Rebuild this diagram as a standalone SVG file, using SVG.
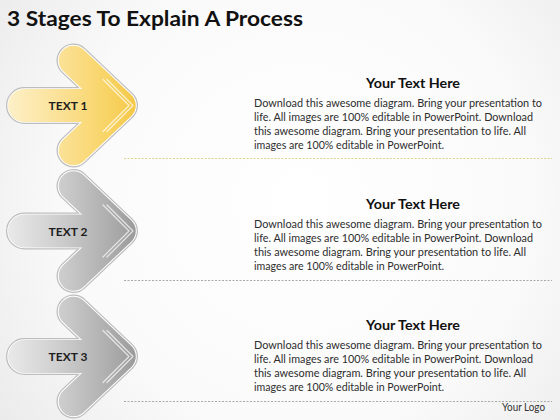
<svg xmlns="http://www.w3.org/2000/svg" xmlns:xlink="http://www.w3.org/1999/xlink" width="560" height="420" viewBox="0 0 560 420">
  <defs>
    <radialGradient id="bg" cx="300" cy="200" r="420" gradientUnits="userSpaceOnUse">
      <stop offset="0" stop-color="#ffffff"/>
      <stop offset="0.55" stop-color="#fafafa"/>
      <stop offset="1" stop-color="#e6e6e6"/>
    </radialGradient>
    <linearGradient id="gy" x1="8" y1="0" x2="140" y2="0" gradientUnits="userSpaceOnUse">
      <stop offset="0" stop-color="#fdf0c8"/>
      <stop offset="0.4" stop-color="#fbe196"/>
      <stop offset="0.75" stop-color="#f8d466"/>
      <stop offset="1" stop-color="#f4c644"/>
    </linearGradient>
    <linearGradient id="gg" x1="8" y1="0" x2="140" y2="0" gradientUnits="userSpaceOnUse">
      <stop offset="0" stop-color="#e9e9e9"/>
      <stop offset="0.4" stop-color="#cdcdcd"/>
      <stop offset="0.75" stop-color="#afafaf"/>
      <stop offset="1" stop-color="#989898"/>
    </linearGradient>
    <path id="chev" d="M73.5,-45 L121,0 L73.5,45"/>
    <rect id="bar" x="8" y="-16.5" width="102" height="33" rx="16.5"/>
    <path id="hl1" d="M103,-26 L129,0 L103,26"/>
    <path id="hl2" d="M107,-26 L133,0 L107,26"/>
    <style>
      .co { fill: none; stroke: #bdbdbd; stroke-width: 34; stroke-linecap: round; stroke-linejoin: round; }
      .cw { fill: none; stroke: #ffffff; stroke-width: 31.5; stroke-linecap: round; stroke-linejoin: round; }
      .bo { fill: #bdbdbd; stroke: #bdbdbd; stroke-width: 4; }
      .bw { fill: #ffffff; stroke: #ffffff; stroke-width: 1.5; }
      .cy { fill: none; stroke: url(#gy); stroke-width: 29.5; stroke-linecap: round; stroke-linejoin: round; }
      .cg { fill: none; stroke: url(#gg); stroke-width: 29.5; stroke-linecap: round; stroke-linejoin: round; }
      .by { fill: url(#gy); }
      .bg2 { fill: url(#gg); }
      .hl { fill: none; stroke: #ffffff; stroke-opacity: 0.7; stroke-width: 1.2; stroke-linejoin: round; stroke-linecap: round; }
      .lbl { font-family: Lato, "Open Sans", sans-serif; font-weight: bold; font-size: 12px; fill: #1e1e1e; text-anchor: middle; }
      .title { font-family: Lato, "Open Sans", sans-serif; font-weight: bold; font-size: 21px; fill: #111111; }
      .head { font-family: Lato, "Open Sans", sans-serif; font-weight: bold; font-size: 13px; fill: #111111; }
      .body { font-family: Lato, "Open Sans", sans-serif; font-size: 11.2px; fill: #2e2e2e; }
      .logo { font-family: Lato, "Open Sans", sans-serif; font-size: 10.5px; fill: #333333; }
      .dy { stroke: #e2d18c; stroke-width: 1; stroke-dasharray: 2 1.5; fill: none; }
      .dg { stroke: #a9a9a9; stroke-width: 1; stroke-dasharray: 2 1.5; fill: none; }
    </style>
  </defs>

  <rect x="0" y="0" width="560" height="420" fill="url(#bg)"/>

  <text class="title" x="7" y="26" textLength="296" lengthAdjust="spacingAndGlyphs">3 Stages To Explain A Process</text>

  <g id="stage1" transform="translate(0,105.5)">
    <use xlink:href="#chev" href="#chev" class="co"/>
    <use xlink:href="#bar" href="#bar" class="bo"/>
    <use xlink:href="#chev" href="#chev" class="cw"/>
    <use xlink:href="#bar" href="#bar" class="bw"/>
    <use xlink:href="#chev" href="#chev" class="cy"/>
    <use xlink:href="#bar" href="#bar" class="by"/>
    <use xlink:href="#hl1" href="#hl1" class="hl"/>
    <use xlink:href="#hl2" href="#hl2" class="hl"/>
    <text class="lbl" x="68" y="4.5">TEXT 1</text>
  </g>

  <g id="stage2" transform="translate(0,231)">
    <use xlink:href="#chev" href="#chev" class="co"/>
    <use xlink:href="#bar" href="#bar" class="bo"/>
    <use xlink:href="#chev" href="#chev" class="cw"/>
    <use xlink:href="#bar" href="#bar" class="bw"/>
    <use xlink:href="#chev" href="#chev" class="cg"/>
    <use xlink:href="#bar" href="#bar" class="bg2"/>
    <use xlink:href="#hl1" href="#hl1" class="hl"/>
    <use xlink:href="#hl2" href="#hl2" class="hl"/>
    <text class="lbl" x="68" y="4.5">TEXT 2</text>
  </g>

  <g id="stage3" transform="translate(0,356.5)">
    <use xlink:href="#chev" href="#chev" class="co"/>
    <use xlink:href="#bar" href="#bar" class="bo"/>
    <use xlink:href="#chev" href="#chev" class="cw"/>
    <use xlink:href="#bar" href="#bar" class="bw"/>
    <use xlink:href="#chev" href="#chev" class="cg"/>
    <use xlink:href="#bar" href="#bar" class="bg2"/>
    <use xlink:href="#hl1" href="#hl1" class="hl"/>
    <use xlink:href="#hl2" href="#hl2" class="hl"/>
    <text class="lbl" x="68" y="4.5">TEXT 3</text>
  </g>

  <g id="connectors">
    <line class="dy" x1="124" y1="158.5" x2="552" y2="158.5"/>
    <line class="dg" x1="124" y1="280.5" x2="552" y2="280.5"/>
    <line class="dg" x1="124" y1="401.5" x2="552" y2="401.5"/>
  </g>

  <g id="text1">
    <text class="head" x="366" y="88" textLength="94" lengthAdjust="spacingAndGlyphs">Your Text Here</text>
    <text class="body" x="254" y="107" textLength="288" lengthAdjust="spacingAndGlyphs">Download this awesome diagram. Bring your presentation to</text>
    <text class="body" x="254" y="121" textLength="279" lengthAdjust="spacingAndGlyphs">life. All images are 100% editable in PowerPoint. Download</text>
    <text class="body" x="254" y="135" textLength="272" lengthAdjust="spacingAndGlyphs">this awesome diagram. Bring your presentation to life. All</text>
    <text class="body" x="254" y="149" textLength="190" lengthAdjust="spacingAndGlyphs">images are 100% editable in PowerPoint.</text>
  </g>

  <g id="text2">
    <text class="head" x="366" y="209" textLength="94" lengthAdjust="spacingAndGlyphs">Your Text Here</text>
    <text class="body" x="254" y="228" textLength="288" lengthAdjust="spacingAndGlyphs">Download this awesome diagram. Bring your presentation to</text>
    <text class="body" x="254" y="242" textLength="279" lengthAdjust="spacingAndGlyphs">life. All images are 100% editable in PowerPoint. Download</text>
    <text class="body" x="254" y="256" textLength="272" lengthAdjust="spacingAndGlyphs">this awesome diagram. Bring your presentation to life. All</text>
    <text class="body" x="254" y="270" textLength="190" lengthAdjust="spacingAndGlyphs">images are 100% editable in PowerPoint.</text>
  </g>

  <g id="text3">
    <text class="head" x="366" y="330" textLength="94" lengthAdjust="spacingAndGlyphs">Your Text Here</text>
    <text class="body" x="254" y="349" textLength="288" lengthAdjust="spacingAndGlyphs">Download this awesome diagram. Bring your presentation to</text>
    <text class="body" x="254" y="363" textLength="279" lengthAdjust="spacingAndGlyphs">life. All images are 100% editable in PowerPoint. Download</text>
    <text class="body" x="254" y="377" textLength="272" lengthAdjust="spacingAndGlyphs">this awesome diagram. Bring your presentation to life. All</text>
    <text class="body" x="254" y="391" textLength="190" lengthAdjust="spacingAndGlyphs">images are 100% editable in PowerPoint.</text>
  </g>

  <text class="logo" x="502" y="411" textLength="43" lengthAdjust="spacingAndGlyphs">Your Logo</text>
</svg>
